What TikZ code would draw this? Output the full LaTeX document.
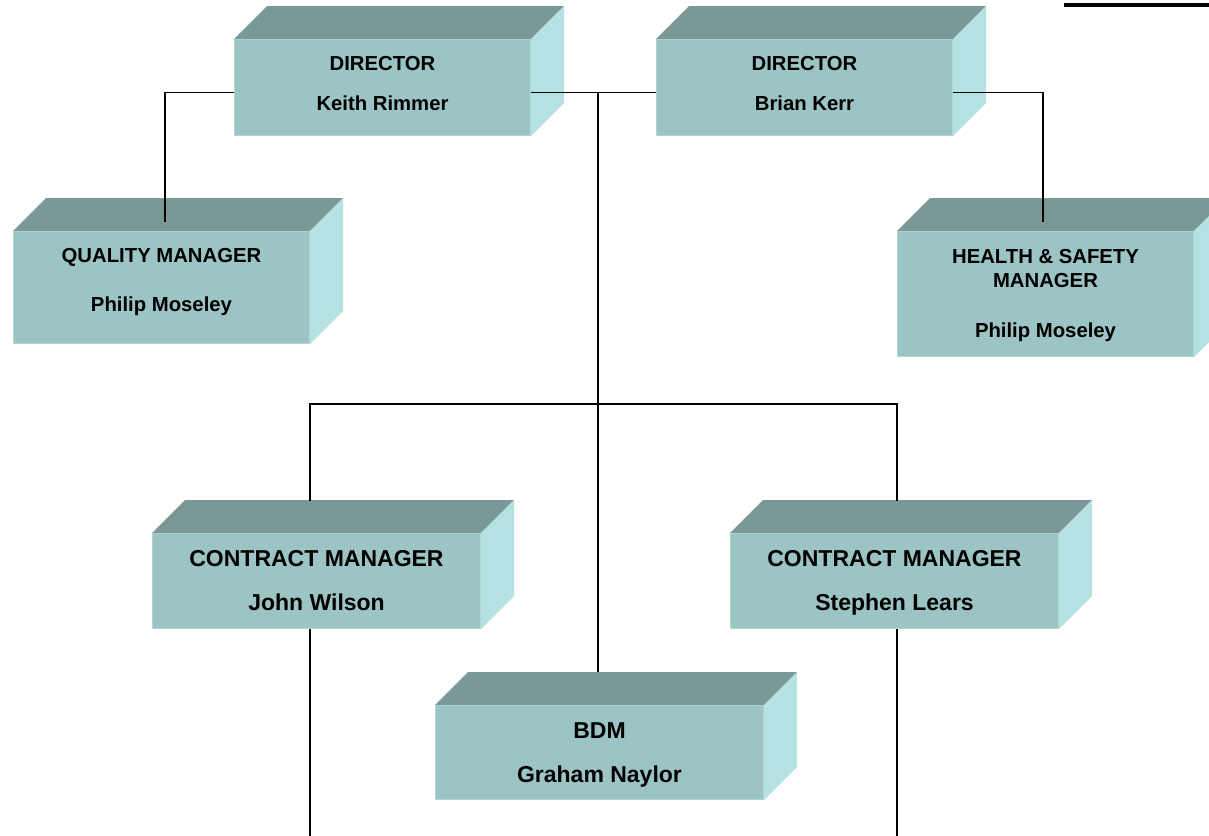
\documentclass[tikz,border=0pt]{standalone}
\usepackage{fontspec}
\setmainfont{Liberation Sans}
\definecolor{boxfront}{HTML}{9CC4C4}
\definecolor{boxedge}{HTML}{B2D6D6}
\definecolor{boxtop}{HTML}{7A9896}
\definecolor{boxside}{HTML}{B4E1E2}

% front face as a node, top and side faces drawn from its anchors
\newcommand\orgbox[5]{%
  \node[frontface, anchor=north west, minimum width=#4pt, minimum height=#5pt] (#1) at (#2,#3) {};
  \fill[topface] (#1.north west) -- ++(33,-33) -- ([shift={(33,-33)}]#1.north east) -- (#1.north east) -- cycle;
  \fill[sideface] (#1.north east) -- ++(33,-33) -- ([shift={(33,-33)}]#1.south east) -- (#1.south east) -- cycle;
}

\begin{document}
\begin{tikzpicture}[x=1pt,y=-1pt,
  frontface/.style={fill=boxfront, draw=boxedge, line width=1pt, inner sep=0pt},
  topface/.style={fill=boxtop},
  sideface/.style={fill=boxside},
  smalltext/.style={anchor=base, inner sep=0pt, font=\fontsize{20.3}{24}\selectfont\bfseries},
  bigtext/.style={anchor=base, inner sep=0pt, font=\fontsize{23}{28}\selectfont\bfseries},
  link/.style={draw=black, line width=1.8pt}]

\clip (0,0) rectangle (1209,835);
\fill[white] (0,0) rectangle (1209,835);

% heading rule
\fill (1064,3) rectangle (1209,7);

% boxes
\orgbox{d1}{234}{39}{296}{96}
\orgbox{d2}{656}{39}{296}{96}
\orgbox{qm}{13}{231}{296}{112}
\orgbox{hs}{897}{231}{296}{125}
\orgbox{cm1}{152}{533}{328}{95}
\orgbox{cm2}{730}{533}{328}{95}
\orgbox{bdm}{435}{705}{328}{94}

% box texts
\node[smalltext] (d1-title) at ([yshift=-31pt]d1.north) {DIRECTOR};
\node[smalltext] (d1-name)  at ([yshift=-71pt]d1.north) {Keith Rimmer};
\node[smalltext] (d2-title) at ([yshift=-31pt]d2.north) {DIRECTOR};
\node[smalltext] (d2-name)  at ([yshift=-71pt]d2.north) {Brian Kerr};
\node[smalltext] (qm-title) at ([yshift=-31pt]qm.north) {QUALITY MANAGER};
\node[smalltext] (qm-name)  at ([yshift=-80pt]qm.north) {Philip Moseley};
\node[smalltext] (hs-title) at ([yshift=-32pt]hs.north) {HEALTH \& SAFETY};
\node[smalltext] (hs-title2) at ([yshift=-56pt]hs.north) {MANAGER};
\node[smalltext] (hs-name)  at ([yshift=-106pt]hs.north) {Philip Moseley};
\node[bigtext] (cm1-title) at ([yshift=-33pt]cm1.north) {CONTRACT MANAGER};
\node[bigtext] (cm1-name)  at ([yshift=-77pt]cm1.north) {John Wilson};
\node[bigtext] (cm2-title) at ([yshift=-33pt]cm2.north) {CONTRACT MANAGER};
\node[bigtext] (cm2-name)  at ([yshift=-77pt]cm2.north) {Stephen Lears};
\node[bigtext] (bdm-title) at ([yshift=-33pt]bdm.north) {BDM};
\node[bigtext] (bdm-name)  at ([yshift=-77pt]bdm.north) {Graham Naylor};

% connector end points on the top faces
\coordinate (qm-top)  at (165,222);
\coordinate (hs-top)  at (1043,222);
\coordinate (bdm-top) at (598,672);
\coordinate (cm1-top) at (310,501);
\coordinate (cm2-top) at (897,501);
\coordinate (hub)     at (598,92);
\coordinate (bar-l)   at (310,404);
\coordinate (bar-r)   at (897,404);
\coordinate (cm1-out) at (310,840);
\coordinate (cm2-out) at (897,840);

% connectors
\draw[link] ([yshift=-5pt]d1.west) -| (qm-top);
\draw[link] ([yshift=-5pt]d1.east) -- ([yshift=-5pt]d2.west);
\draw[link] ([yshift=-5pt]d2.east) -| (hs-top);
\draw[link] (hub) -- (bdm-top);
\draw[link] (cm1-top) -- (bar-l) -- (bar-r) -- (cm2-top);
\draw[link] (cm1.south -| cm1-out) -- (cm1-out);
\draw[link] (cm2.south -| cm2-out) -- (cm2-out);
\end{tikzpicture}
\end{document}
